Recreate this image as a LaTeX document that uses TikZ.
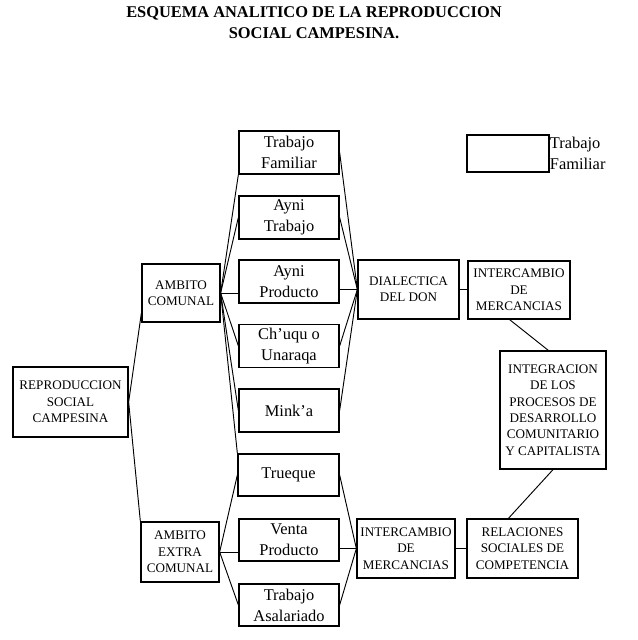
\documentclass[tikz,border=0pt]{standalone}
\usepackage{fontspec}
\setmainfont{Liberation Serif}

\tikzset{
  recuadro/.style={draw, line width=1.1pt, inner sep=0pt, align=center,
    minimum width=100*0.03cm, minimum height=43*0.03cm,
    font=\fontsize{14}{18}\selectfont},
  mayus/.style={recuadro, font=\fontsize{11.2}{14}\selectfont},
  enlace/.style={line width=0.8pt}
}

\begin{document}
\begin{tikzpicture}[x=0.03cm, y=0.03cm]
  \useasboundingbox (0,0) rectangle (637,640);
  % titulo
  \node[align=center, font=\bfseries\fontsize{14}{18}\selectfont] (titulo) at (314,617.5)
    {ESQUEMA ANALITICO DE LA REPRODUCCION\\SOCIAL CAMPESINA.};
  % cajas de la izquierda
  \node[mayus, minimum width=115*0.03cm, minimum height=70*0.03cm] (rep) at (70.5,238)
    {REPRODUCCION\\SOCIAL\\CAMPESINA};
  \node[mayus, minimum width=78*0.03cm, minimum height=58*0.03cm] (ac) at (181,347)
    {AMBITO\\COMUNAL};
  \node[mayus, minimum width=78*0.03cm, minimum height=60*0.03cm] (aec) at (180,88)
    {AMBITO\\EXTRA\\COMUNAL};
  % formas de intercambio
  \node[recuadro] (tf) at (289,487.5) {Trabajo\\Familiar};
  \node[recuadro] (at) at (289,422.5) {Ayni\\Trabajo};
  \node[recuadro] (ap) at (289,358.5) {Ayni\\Producto};
  \node[recuadro] (ch) at (289,294) {Ch'uqu o\\Unaraqa};
  \node[recuadro] (mk) at (289,229.5) {Mink'a};
  \node[recuadro, minimum width=101*0.03cm, minimum height=42*0.03cm] (tr) at (288.5,165) {Trueque};
  \node[recuadro, minimum height=42*0.03cm] (vp) at (289,100) {Venta\\Producto};
  \node[recuadro, minimum height=42*0.03cm] (ta) at (289,35) {Trabajo\\Asalariado};
  % cajas de la derecha
  \node[mayus, minimum width=101*0.03cm, minimum height=59*0.03cm] (dd) at (408.5,350.5)
    {DIALECTICA\\DEL DON};
  \node[mayus, minimum width=102*0.03cm, minimum height=58*0.03cm] (im1) at (519,350)
    {INTERCAMBIO\\DE\\MERCANCIAS};
  \node[mayus, minimum width=106*0.03cm, minimum height=118*0.03cm] (ig) at (553,230)
    {INTEGRACION\\DE LOS\\PROCESOS DE\\DESARROLLO\\COMUNITARIO\\Y CAPITALISTA};
  \node[mayus, minimum width=98*0.03cm, minimum height=59*0.03cm] (im2) at (406,91.5)
    {INTERCAMBIO\\DE\\MERCANCIAS};
  \node[mayus, minimum width=111*0.03cm, minimum height=59*0.03cm] (rs) at (522.5,91.5)
    {RELACIONES\\SOCIALES DE\\COMPETENCIA};
  % leyenda
  \node[recuadro, minimum width=82*0.03cm, minimum height=37*0.03cm] (leg) at (508,486.5) {};
  \node[anchor=west, align=left, inner sep=0pt, font=\fontsize{14}{18}\selectfont] (legtxt)
    at (leg.east) {Trabajo\\Familiar};
  % conexiones
  \draw[enlace] (rep.east) -- ([yshift=8pt]ac.south west);
  \draw[enlace] (rep.east) -- (aec.north west);
  \draw[enlace] (ac.east) -- (tf.south west);
  \draw[enlace] (ac.east) -- (at.west);
  \draw[enlace] (ac.east) -- (ac.east -| ap.west);
  \draw[enlace] (ac.east) -- (ch.west);
  \draw[enlace] (ac.east) -- (mk.west);
  \draw[enlace] (ac.east) -- (tr.north west);
  \draw[enlace] (tf.east) -- (dd.west);
  \draw[enlace] (at.east) -- (dd.west);
  \draw[enlace] (ap.east |- dd.west) -- (dd.west);
  \draw[enlace] (ch.east) -- (dd.west);
  \draw[enlace] (mk.east) -- (dd.west);
  \draw[enlace] (aec.east) -- (tr.west);
  \draw[enlace] (aec.east) -- (aec.east -| vp.west);
  \draw[enlace] (aec.east) -- (ta.west);
  \draw[enlace] (tr.east) -- (im2.west);
  \draw[enlace] (vp.east |- im2.west) -- (im2.west);
  \draw[enlace] (ta.east) -- (im2.west);
  \draw[enlace] (dd.east) -- (dd.east -| im1.west);
  \draw[enlace] (im2.east) -- (im2.east -| rs.west);
  \draw[enlace] ([xshift=-8pt]im1.south) -- ([xshift=-4pt]ig.north);
  \draw[enlace] ([xshift=-12pt]rs.north) -- (ig.south);
\end{tikzpicture}
\end{document}
